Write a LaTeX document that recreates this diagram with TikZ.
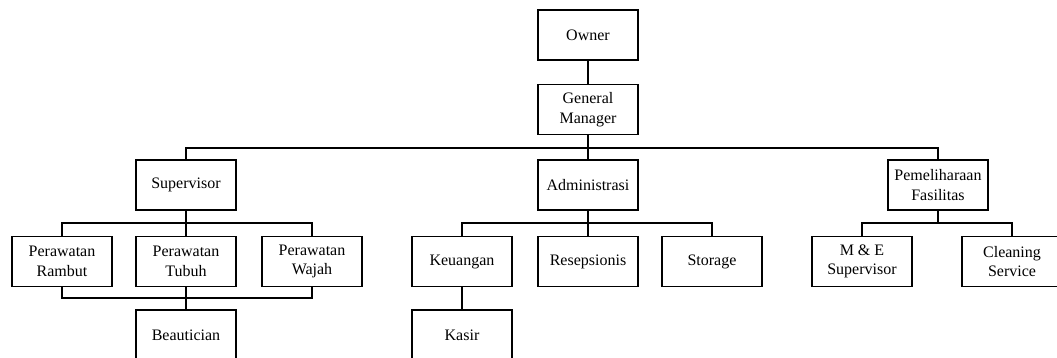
\documentclass[tikz,border=0pt]{standalone}
\usepackage{fontspec}
\setmainfont{Liberation Serif}
\begin{document}
\begin{tikzpicture}[x=1pt, y=1pt, line width=1.8pt,
  unit/.style={draw, rectangle, minimum width=100pt, minimum height=50pt, inner sep=0pt, align=center, font=\fontsize{16}{19.5}\selectfont}]
\useasboundingbox (0,0) rectangle (1057,358);

% Top level
\node[unit] (own) at (588,323) {Owner};
\node[unit] (gm) at (588,248.5) {General\\Manager};
\draw (own) -- (gm);

% Departments
\node[unit] (sup) at (186,173) {Supervisor};
\node[unit] (adm) at (588,173) {Administrasi};
\node[unit] (pem) at (938,173) {Pemeliharaan\\Fasilitas};

\coordinate (bar) at (588,210);
\draw (gm) -- (adm);
\draw (sup.north) |- (bar) -| (pem.north);

% Staff under Supervisor
\node[unit] (rambut) at (62,96.5) {Perawatan\\Rambut};
\node[unit] (tubuh) at (186,96.5) {Perawatan\\Tubuh};
\node[unit] (wajah) at (312,96.5) {Perawatan\\Wajah};
\node[unit] (beau) at (186,23) {Beautician};

\coordinate (s1) at (186,135);
\coordinate (s2) at (186,60);
\draw (sup) -- (tubuh);
\draw (rambut.north) |- (s1) -| (wajah.north);
\draw (rambut.south) |- (s2) -| (wajah.south);
\draw (tubuh) -- (beau);

% Staff under Administrasi
\node[unit] (keu) at (462,96.5) {Keuangan};
\node[unit] (resep) at (588,96.5) {Resepsionis};
\node[unit] (stor) at (712,96.5) {Storage};
\node[unit] (kasir) at (462,23) {Kasir};

\coordinate (a1) at (588,135);
\draw (adm) -- (resep);
\draw (keu.north) |- (a1) -| (stor.north);
\draw (keu) -- (kasir);

% Staff under Pemeliharaan Fasilitas
\node[unit] (me) at (862,96.5) {M \& E\\Supervisor};
\node[unit] (clean) at (1012,96.5) {Cleaning\\Service};

\coordinate (p1) at (938,135);
\draw (pem.south) -- (p1);
\draw (me.north) |- (p1) -| (clean.north);
\end{tikzpicture}
\end{document}
